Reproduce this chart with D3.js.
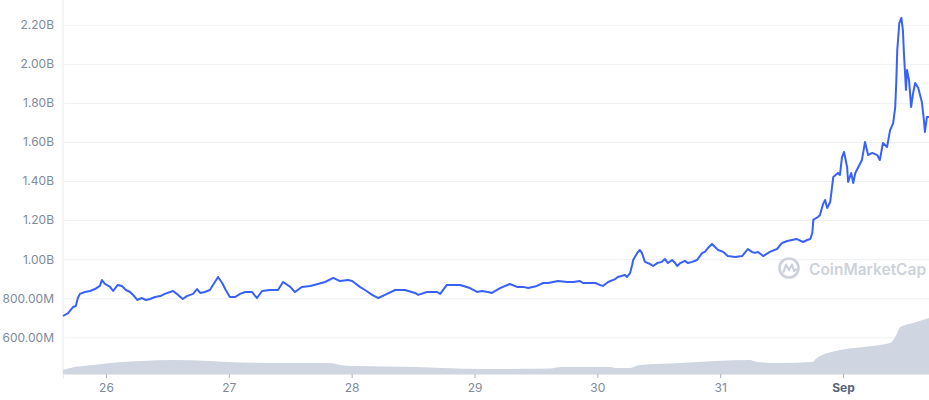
<!DOCTYPE html>
<html><head><meta charset="utf-8">
<script src="https://cdn.jsdelivr.net/npm/d3@7"></script>
<style>
body{margin:0;background:#fff;}
svg{display:block;font-family:Inter,"Noto Sans",sans-serif;}
</style>
</head><body>
<svg id="chart" width="929" height="400"></svg>
<script>
const startTime = "2021-08-25 15:36";
const priceHours = [0,1.0,1.95,2.5,2.9,3.3,4.3,5.3,6.25,7.2,7.6,8.2,9.2,9.8,10.7,11.5,12.3,13.1,13.7,14.5,15.4,16.2,17.0,18.0,19.0,19.9,21.5,22.5,23.4,24.2,25.4,26.2,26.8,27.7,28.7,29.3,30.3,31.1,31.8,32.6,33.6,
34.6,35.6,36.9,37.9,38.9,40.4,42.0,43.0,44.4,45.3,46.7,48.3,49.8,51.2,52.8,54.1,55.7,56.5,58.0,59.0,60.4,61.6,62.9,64.9,66.8,68.8,
69.4,71.1,73.1,73.7,75.0,77.6,79.5,80.9,81.9,83.0,83.8,85.4,87.3,88.7,89.9,90.9,92.6,93.8,94.8,96.7,98.5,99.7,101.0,101.6,103.0,
104.0,104.9,105.5,106.5,107.9,108.4,109.8,110.2,110.8,111.2,111.4,112.2,112.7,113.1,113.7,114.7,115.3,116.1,117.0,117.6,118.2,119.0,119.6,120.0,120.6,121.5,122.1,122.9,123.9,124.9,125.4,126.0,126.8,127.4,128.0,129.0,129.9,131.3,132.7,133.2,133.8,134.6,135.2,135.8,136.8,
138.1,139.5,140.5,141.5,142.4,143.4,144.6,145.4,146.0,146.4,146.6,147.5,147.9,148.5,148.9,149.3,149.9,150.5,151.4,151.8,152.2,152.6,153.2,153.4,154.0,154.4,154.8,155.3,156.1,156.7,157.3,158.1,159.1,159.6,160.2,161.0,161.6,162.2,162.6,162.8,163.0,163.4,163.8,164.1,164.3,164.7,164.9,165.3,165.7,166.1,166.5,167.1,167.8,168.2,168.4,168.8,169.2];
const marketCapM = [709,724,755,760,801,822,832,837,847,863,893,873,858,837,868,863,842,832,817,791,801,791,796,806,811,822,837,817,796,811,822,847,827,832,842,868,909,878,842,806,806,
822,832,832,801,837,842,842,883,858,832,858,863,873,883,904,888,893,888,858,842,817,801,817,842,842,827,
817,832,832,822,868,868,852,832,837,832,827,852,873,858,858,852,863,878,878,888,883,883,888,878,878,
878,868,863,883,898,909,919,909,929,970,996,1032,1047,1032,986,975,965,980,986,1001,980,996,980,965,980,991,980,986,996,1032,1037,1057,1078,1062,1047,1037,1016,1011,1016,1032,1052,1037,1032,1037,1016,
1037,1052,1083,1093,1098,1103,1088,1098,1103,1134,1201,1216,1226,1282,1303,1262,1293,1421,1441,1431,1523,1549,1472,1395,1441,1390,1441,1467,1508,1600,1533,1544,1533,1508,1595,1574,1661,1697,1779,1902,2071,2209,2235,2173,2056,1866,1969,1917,1779,1851,1902,1876,1805,1713,1651,1728,1728];
const volumeHours = [0,1.4,5.9,9.2,15.6,21.5,28.7,32.0,44.9,52.2,54.1,56.7,69.2,74.3,82.5,95.2,97.2,106.9,107.9,110.8,112.7,120.6,127.4,134.2,135.6,140.1,146.4,147.3,151.8,156.3,161.6,162.6,163.6,166.1,169.2];
const volumeM = [20,30,45,55,65,70,65,60,55,55,45,40,35,30,25,27,35,35,30,30,45,55,65,70,60,55,60,80,120,135,155,185,235,255,280];
const yTickValues = [600,800,1000,1200,1400,1600,1800,2000,2200];
const yTickLabels = ["600.00M","800.00M","1.00B","1.20B","1.40B","1.60B","1.80B","2.00B","2.20B"];
const xTickDates = ["2021-08-26","2021-08-27","2021-08-28","2021-08-29","2021-08-30","2021-08-31","2021-09-01"];
const xTickLabels = ["26","27","28","29","30","31","Sep"];

const parseT = d3.timeParse("%Y-%m-%d %H:%M");
const parseD = d3.timeParse("%Y-%m-%d");
const t0 = parseT(startTime);
const toDate = h => new Date(t0.getTime() + h * 3600e3);
const price = priceHours.map((h, i) => ({t: toDate(h), v: marketCapM[i]}));
const vol = volumeHours.map((h, i) => ({t: toDate(h), v: volumeM[i]}));

const L = 63, R = 929, B = 374;
const svg = d3.select("#chart");
const x = d3.scaleTime().domain([t0, toDate(priceHours[priceHours.length - 1])]).range([L, R]);
const y = d3.scaleLinear().domain([412, 2327]).range([B, 0]);
const yVol = d3.scaleLinear().domain([0, 1000]).range([B, B - 200]);

// grid + y labels
const gy = svg.append("g").attr("transform", `translate(${L},0)`)
  .call(d3.axisLeft(y).tickValues(yTickValues).tickSize(-(R - L)).tickPadding(9)
    .tickFormat((d, i) => yTickLabels[i]));
gy.select(".domain").remove();
gy.selectAll(".tick line").attr("stroke", "#eff2f5");
gy.selectAll(".tick text").attr("fill", "#808a9d").style("font-size", "12px").style("font-family", "Inter,'Noto Sans',sans-serif");

svg.append("line").attr("x1", L).attr("x2", L).attr("y1", 0).attr("y2", B)
  .attr("stroke", "#e6e9ee");

// volume area
svg.append("path").datum(vol)
  .attr("fill", "#cfd6e2")
  .attr("d", d3.area().x(d => x(d.t)).y0(B).y1(d => yVol(d.v)).curve(d3.curveMonotoneX));

// watermark
const wm = svg.append("g").attr("opacity", 1);
wm.append("circle").attr("cx", 789).attr("cy", 268).attr("r", 9.5)
  .attr("fill", "none").attr("stroke", "#cdd2da").attr("stroke-width", 2.6);
wm.append("path").attr("d", "M783.5,272 L786,264.5 L789,270 L792,264.5 L794,271 L796,269.5")
  .attr("fill", "none").attr("stroke", "#cdd2da").attr("stroke-width", 2.2).attr("stroke-linejoin", "round").attr("stroke-linecap", "round");
wm.append("text").attr("x", 809).attr("y", 274.5).text("CoinMarketCap")
  .attr("fill", "#cdd2da").style("font-size", "15.5px").style("font-weight", 600);

// x axis
const gx = svg.append("g").attr("transform", `translate(0,${B})`)
  .call(d3.axisBottom(x).tickValues(xTickDates.map(parseD)).tickSize(4).tickPadding(5)
    .tickFormat((d, i) => xTickLabels[i]));
gx.select(".domain").attr("stroke", "#e6e9ee");
gx.selectAll(".tick line").attr("stroke", "#a6b0c3");
gx.selectAll(".tick text").attr("fill", "#808a9d").style("font-size", "12px").style("font-family", "Inter,'Noto Sans',sans-serif")
  .filter((d, i) => i === xTickLabels.length - 1).attr("fill", "#58667e").style("font-weight", 700);

// market cap line
svg.append("path").datum(price)
  .attr("fill", "none").attr("stroke", "#3861fb").attr("stroke-width", 2)
  .attr("stroke-linejoin", "round")
  .attr("d", d3.line().x(d => x(d.t)).y(d => y(d.v)));
</script>
</body></html>
